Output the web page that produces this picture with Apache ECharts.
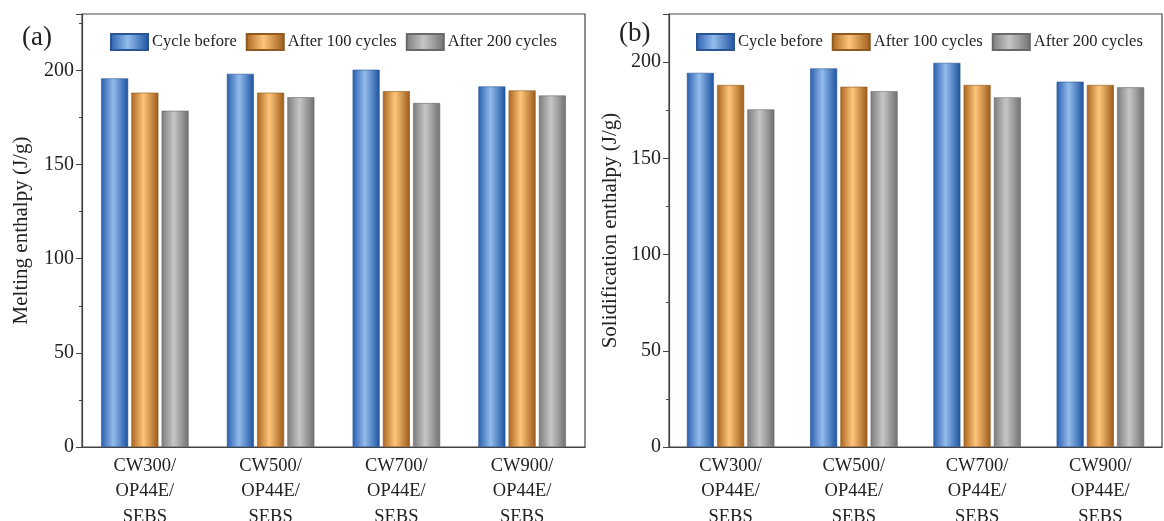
<!DOCTYPE html>
<html>
<head>
<meta charset="utf-8">
<script src="https://cdn.jsdelivr.net/npm/echarts@6/dist/echarts.min.js"></script>
<style>
  html, body { margin: 0; padding: 0; background: #fff; }
  #main { width: 1164px; height: 521px; }
</style>
</head>
<body>
<div id="main"></div>
<script>
// 数据
var categories = ['CW300/\nOP44E/\nSEBS', 'CW500/\nOP44E/\nSEBS', 'CW700/\nOP44E/\nSEBS', 'CW900/\nOP44E/\nSEBS']
var seriesNames = ['Cycle before', 'After 100 cycles', 'After 200 cycles']
var meltBefore = [195.8, 198.2, 200.4, 191.5]
var melt100 = [188.2, 188.2, 189.0, 189.4]
var melt200 = [178.6, 185.8, 182.7, 186.7]
var solidBefore = [194.4, 196.7, 199.6, 189.8]
var solid100 = [188.1, 187.2, 188.1, 188.1]
var solid200 = [175.4, 184.9, 181.7, 186.9]
var yTicks = [0, 50, 100, 150, 200]

var fontName = 'Liberation Serif'

function cyl (edgeL, mid, edgeR) {
  return new echarts.graphic.LinearGradient(0, 0, 1, 0, [
    { offset: 0, color: edgeL },
    { offset: 0.45, color: mid },
    { offset: 1, color: edgeR }
  ])
}
var barColors = [
  cyl('#2a5fae', '#93bcec', '#1c52a0'),
  cyl('#a9661f', '#ffc57c', '#9c5b18'),
  cyl('#7c7c7c', '#c6c6c6', '#707070')
]
var borderColors = ['#2a5494', '#8f5a20', '#6a6a6a']

function makeY (gridIndex, max, name, gap) {
  return {
    type: 'value',
    gridIndex: gridIndex,
    min: 0,
    max: max,
    interval: 50,
    name: name,
    nameLocation: 'middle',
    nameGap: gap,
    nameTextStyle: { fontFamily: fontName, fontSize: 21, color: '#222' },
    axisLine: { show: true, lineStyle: { color: '#444', width: 1.2 } },
    axisTick: { show: true, inside: false, length: 6, lineStyle: { color: '#444' } },
    minorTick: { show: true, splitNumber: 2, length: 3, lineStyle: { color: '#444' } },
    splitLine: { show: false },
    axisLabel: {
      fontFamily: fontName, fontSize: 20, color: '#222', margin: 8,
      formatter: function (v) { return yTicks.indexOf(v) >= 0 ? String(v) : '' }
    }
  }
}

function makeX (gridIndex) {
  return {
    type: 'category',
    gridIndex: gridIndex,
    data: categories,
    axisLine: { show: true, lineStyle: { color: '#444', width: 1.2 } },
    axisTick: { show: false },
    axisLabel: { fontFamily: fontName, fontSize: 18.5, color: '#222', lineHeight: 25.5, margin: 6 }
  }
}

function makeSeries (gridIndex, arrs) {
  return arrs.map(function (d, i) {
    return {
      name: seriesNames[i],
      type: 'bar',
      xAxisIndex: gridIndex,
      yAxisIndex: gridIndex,
      barWidth: 27,
      barGap: '12%',
      itemStyle: { color: barColors[i], borderColor: borderColors[i], borderWidth: 0.6 },
      data: d
    }
  })
}

function makeLegend (left) {
  return {
    left: left,
    top: 33,
    padding: 0,
    itemWidth: 37,
    itemHeight: 16,
    itemGap: 9,
    icon: 'rect',
    textStyle: { fontFamily: fontName, fontSize: 16.5, color: '#222', padding: [0, 0, 0, -1] },
    data: seriesNames
  }
}

var myChart = echarts.init(document.getElementById('main'))
myChart.setOption({
  animation: false,
  backgroundColor: '#fff',
  grid: [
    { left: 82, right: 579, top: 14, bottom: 74, outerBoundsMode: 'none', show: true, borderColor: '#444', borderWidth: 1.2 },
    { left: 669, right: 2, top: 14, bottom: 74, outerBoundsMode: 'none', show: true, borderColor: '#444', borderWidth: 1.2 }
  ],
  legend: [makeLegend(110), makeLegend(696)],
  xAxis: [makeX(0), makeX(1)],
  yAxis: [makeY(0, 230, 'Melting enthalpy (J/g)', 50), makeY(1, 225, 'Solidification enthalpy (J/g)', 48)],
  graphic: [
    { type: 'text', left: 22, top: 24, style: { text: '(a)', font: '27px "Liberation Serif"', fill: '#222' } },
    { type: 'text', left: 619, top: 20, style: { text: '(b)', font: '27px "Liberation Serif"', fill: '#222' } }
  ],
  series: makeSeries(0, [meltBefore, melt100, melt200]).concat(makeSeries(1, [solidBefore, solid100, solid200]))
})
</script>
</body>
</html>
